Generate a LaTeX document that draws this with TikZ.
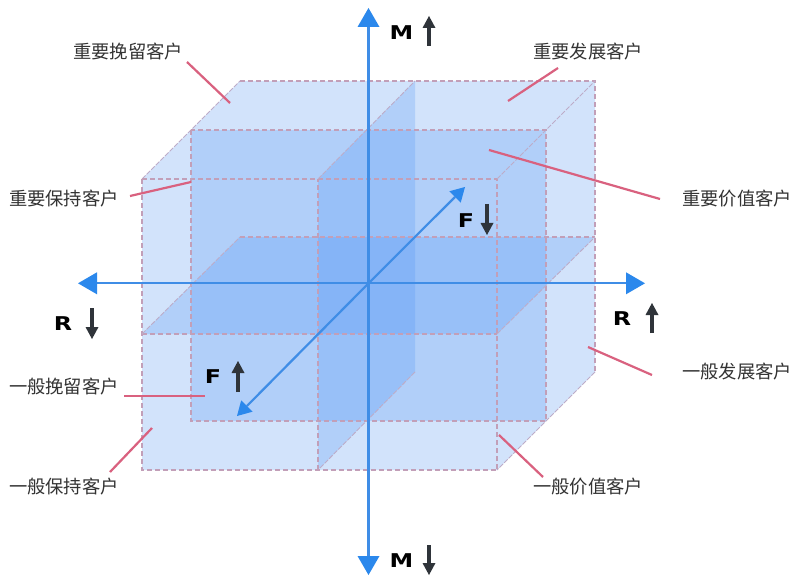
\documentclass[tikz,border=0pt]{standalone}
\usepackage{fontspec}
\setmainfont{DejaVu Sans}
\newfontfamily\cjk{Noto Sans CJK SC}
\usetikzlibrary{arrows.meta}
\definecolor{basefill}{HTML}{D2E3FB}
\definecolor{planefill}{HTML}{4A92F5}
\definecolor{dashcol}{HTML}{C29FB8}
\definecolor{thincol}{HTML}{BDACC8}
\definecolor{axiscol}{HTML}{3F8DE6}
\definecolor{tipcol}{HTML}{2B88EC}
\definecolor{leadcol}{HTML}{D9617F}
\definecolor{darkarrow}{HTML}{2F343A}
\tikzset{
  x=1bp,y=-1bp,
  outline/.style={draw=dashcol,dash pattern=on 5bp off 3bp,line width=1.1bp},
  thinedge/.style={draw=thincol,dash pattern=on 5bp off 1.5bp,line width=.9bp},
  plane/.style={fill=planefill,fill opacity=.24,draw=none},
  axisline/.style={draw=axiscol,line width=2.2bp,-{Triangle[length=19bp,width=22bp,color=tipcol,fill=tipcol,line width=0pt]}},
  faxis/.style={draw=axiscol,line width=2.2bp,-{Triangle[length=14bp,width=16bp,color=tipcol,fill=tipcol,line width=0pt]}},
  leader/.style={draw=leadcol,line width=2.2bp},
  updown/.style={draw=darkarrow,line width=3.6bp,-{Triangle[length=12bp,width=13bp,color=darkarrow,fill=darkarrow,line width=0pt]}},
  cust/.style={font=\cjk\fontsize{18.3bp}{20bp}\selectfont,text=black!80,inner sep=0pt},
  letter/.style={font=\bfseries\fontsize{19bp}{20bp}\selectfont,text=black,inner sep=0pt,xscale=1.25},
}
\begin{document}
\begin{tikzpicture}
\useasboundingbox (0,0) rectangle (792,579);
\fill[white] (0,0) rectangle (792,579);
% solid
\fill[basefill] (142,179)--(240,81)--(595,81)--(595,372)--(497,470)--(142,470)--cycle;
% three mid planes
\fill[plane] (191,130) rectangle (546,421);
\fill[plane] (142,334)--(240,237)--(595,237)--(497,334)--cycle;
\fill[plane] (318,179)--(415,81)--(415,372)--(318,470)--cycle;
% dashed outline
\draw[outline] (142,179)--(142,470)--(497,470);
\draw[outline] (240,81)--(595,81)--(595,372);
\draw[thinedge] (142,179)--(240,81);
\draw[thinedge] (595,372)--(497,470);
\draw[outline] (142,179)--(497,179)--(497,470);
\draw[thinedge] (497,179)--(595,81);
\draw[outline] (191,130) rectangle (546,421);
\draw[outline] (142,334)--(497,334);
\draw[outline] (240,237)--(595,237);
\draw[thinedge] (142,334)--(240,237);
\draw[thinedge] (497,334)--(595,237);
\draw[thinedge] (318,179)--(415,81);
\draw[thinedge] (415,372)--(318,470);
\draw[outline] (318,470)--(318,179);
% axes
\coordinate (rL) at (78,283.3);
\coordinate (rR) at (645,283.3);
\coordinate (mT) at (368.5,8);
\coordinate (mB) at (368.5,575);
\coordinate (o) at (368.5,283.3);
\coordinate (fT) at (465,187);
\coordinate (fB) at (237,416);
\draw[axisline] (o)--(rL);
\draw[axisline] (o)--(rR);
\draw[axisline] (o)--(mT);
\draw[axisline] (o)--(mB);
\draw[faxis] (o)--(fT);
\draw[faxis] (o)--(fB);
% letters
\node[letter] (lm1) at (401.5,32.5) {M};
\coordinate (a1s) at (429,46); \coordinate (a1e) at (429,16);
\draw[updown] (a1s)--(a1e);
\node[letter] (lm2) at (401.5,561) {M};
\coordinate (a2s) at (429,545); \coordinate (a2e) at (429,575);
\draw[updown] (a2s)--(a2e);
\node[letter] (lf1) at (466,221) {F};
\coordinate (a3s) at (487,204); \coordinate (a3e) at (487,235);
\draw[updown] (a3s)--(a3e);
\node[letter] (lf2) at (213,377) {F};
\coordinate (a4s) at (238,392); \coordinate (a4e) at (238,361);
\draw[updown] (a4s)--(a4e);
\node[letter] (lr1) at (63,324) {R};
\coordinate (a5s) at (92,308); \coordinate (a5e) at (92,339);
\draw[updown] (a5s)--(a5e);
\node[letter] (lr2) at (622,319) {R};
\coordinate (a6s) at (652,333); \coordinate (a6e) at (652,303);
\draw[updown] (a6s)--(a6e);
% labels
\node[cust] (t1) at (128,52) {重要挽留客户};
\node[cust] (t2) at (588,52) {重要发展客户};
\node[cust] (t3) at (64,198.5) {重要保持客户};
\node[cust] (t4) at (737,198.5) {重要价值客户};
\node[cust] (t5) at (64,387) {一般挽留客户};
\node[cust] (t6) at (737,372) {一般发展客户};
\node[cust] (t7) at (64,487) {一般保持客户};
\node[cust] (t8) at (588,487) {一般价值客户};
% leaders
\coordinate (p1a) at (187,62); \coordinate (p1b) at (230,103);
\coordinate (p2a) at (558,68); \coordinate (p2b) at (508,101);
\coordinate (p3a) at (130,196); \coordinate (p3b) at (191,182);
\coordinate (p4a) at (660,199); \coordinate (p4b) at (489,150);
\coordinate (p5a) at (124,396); \coordinate (p5b) at (205,396);
\coordinate (p6a) at (652,375); \coordinate (p6b) at (588,347);
\coordinate (p7a) at (110,472); \coordinate (p7b) at (152,428);
\coordinate (p8a) at (543,477); \coordinate (p8b) at (499,435);
\foreach \n in {1,...,8}{\draw[leader] (p\n a)--(p\n b);}
\end{tikzpicture}
\end{document}
